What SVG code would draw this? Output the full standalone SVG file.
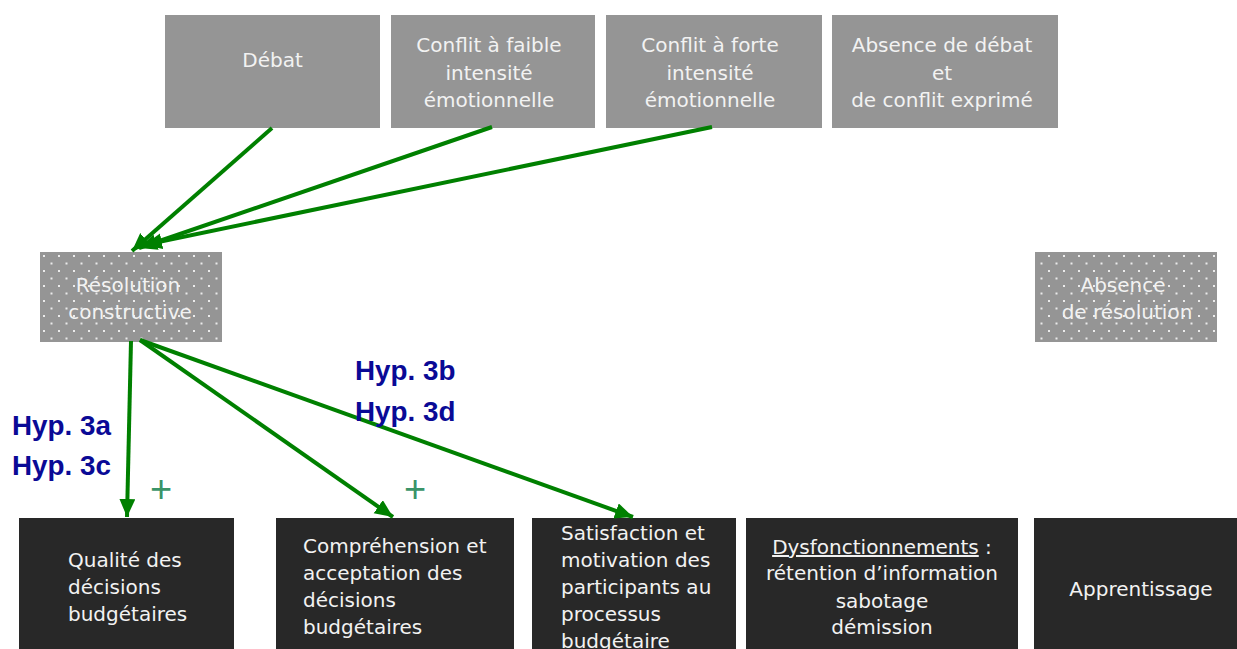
<svg xmlns="http://www.w3.org/2000/svg" width="1237" height="649" viewBox="0 0 1237 649">
<style>
.gbox{fill:#959595}
.dbox{fill:#282828}
.t{font-family:"DejaVu Sans",Verdana,sans-serif;font-size:20px;fill:#f2f2f2}
.tc{text-anchor:middle}
.hyp{font-family:"Liberation Sans",Arial,sans-serif;font-weight:bold;font-size:27.8px;fill:#0a0a96}
.plus{font-family:"Liberation Sans",Arial,sans-serif;font-size:38px;fill:#3a9468;text-anchor:middle}
.con{stroke:#008000;stroke-width:4;fill:none;marker-end:url(#ah)}
</style>
<defs>
<pattern id="dots" width="15" height="15" patternUnits="userSpaceOnUse" x="40" y="252">
<rect width="15" height="15" fill="#959595"/>
<rect x="3" y="3" width="2" height="2" fill="#ebebeb"/>
<rect x="10.5" y="10.5" width="2" height="2" fill="#ebebeb"/>
</pattern>
<marker id="ah" markerUnits="userSpaceOnUse" markerWidth="22" markerHeight="18" refX="18" refY="8" orient="auto">
<path d="M0,0 L18,8 L0,16 Z" fill="#008000"/>
</marker>
</defs>

<g id="n-debat"><rect class="gbox" x="165" y="15" width="215" height="113"/><text class="t tc" x="272.5" y="67">Débat</text></g>
<g id="n-faible"><rect class="gbox" x="391" y="15" width="204" height="113"/><text class="t tc" x="489" y="52">Conflit à faible</text><text class="t tc" x="489" y="80">intensité</text><text class="t tc" x="489" y="107">émotionnelle</text></g>
<g id="n-forte"><rect class="gbox" x="606" y="15" width="216" height="113"/><text class="t tc" x="710" y="52">Conflit à forte</text><text class="t tc" x="710" y="80">intensité</text><text class="t tc" x="710" y="107">émotionnelle</text></g>
<g id="n-absence"><rect class="gbox" x="832" y="15" width="226" height="113"/><text class="t tc" x="942" y="52">Absence de débat</text><text class="t tc" x="942" y="80">et</text><text class="t tc" x="942" y="107">de conflit exprimé</text></g>

<g id="n-resolution"><rect x="40" y="252" width="182" height="90" fill="url(#dots)"/><text class="t tc" x="128" y="292">Résolution</text><text class="t tc" x="130" y="319">constructive</text></g>
<g id="n-absres"><rect x="1035" y="252" width="182" height="90" fill="url(#dots)"/><text class="t tc" x="1123" y="292">Absence</text><text class="t tc" x="1127" y="319">de résolution</text></g>

<g id="n-qualite"><rect class="dbox" x="19" y="518" width="215" height="131"/><text class="t" x="68" y="567">Qualité des</text><text class="t" x="68" y="594">décisions</text><text class="t" x="68" y="621">budgétaires</text></g>
<g id="n-compr"><rect class="dbox" x="276" y="518" width="238" height="131"/><text class="t" x="303" y="553">Compréhension et</text><text class="t" x="303" y="580">acceptation des</text><text class="t" x="303" y="607">décisions</text><text class="t" x="303" y="634">budgétaires</text></g>
<g id="n-satis"><rect class="dbox" x="532" y="518" width="204" height="131"/><text class="t" x="561" y="540">Satisfaction et</text><text class="t" x="561" y="567">motivation des</text><text class="t" x="561" y="594">participants au</text><text class="t" x="561" y="621">processus</text><text class="t" x="561" y="648">budgétaire</text></g>
<g id="n-dysf"><rect class="dbox" x="746" y="518" width="272" height="131"/><text class="t tc" x="882" y="554"><tspan text-decoration="underline">Dysfonctionnements</tspan> :</text><text class="t tc" x="882" y="580">rétention d’information</text><text class="t tc" x="882" y="608">sabotage</text><text class="t tc" x="882" y="634">démission</text></g>
<g id="n-appr"><rect class="dbox" x="1034" y="518" width="203" height="131"/><text class="t tc" x="1141" y="596">Apprentissage</text></g>

<g id="connectors">
<line class="con" x1="272" y1="128" x2="132" y2="251"/>
<line class="con" x1="492" y1="127" x2="139" y2="248"/>
<line class="con" x1="712" y1="127" x2="144" y2="245"/>
<line class="con" x1="131" y1="341" x2="127" y2="517"/>
<line class="con" x1="140" y1="340" x2="393" y2="517"/>
<line class="con" x1="140" y1="340" x2="633" y2="517"/>
</g>

<g id="labels">
<text class="hyp" x="12" y="435">Hyp. 3a</text>
<text class="hyp" x="12" y="475">Hyp. 3c</text>
<text class="hyp" x="355" y="380">Hyp. 3b</text>
<text class="hyp" x="355" y="421">Hyp. 3d</text>
<text class="plus" x="161" y="502">+</text>
<text class="plus" x="415" y="502">+</text>
</g>
</svg>
